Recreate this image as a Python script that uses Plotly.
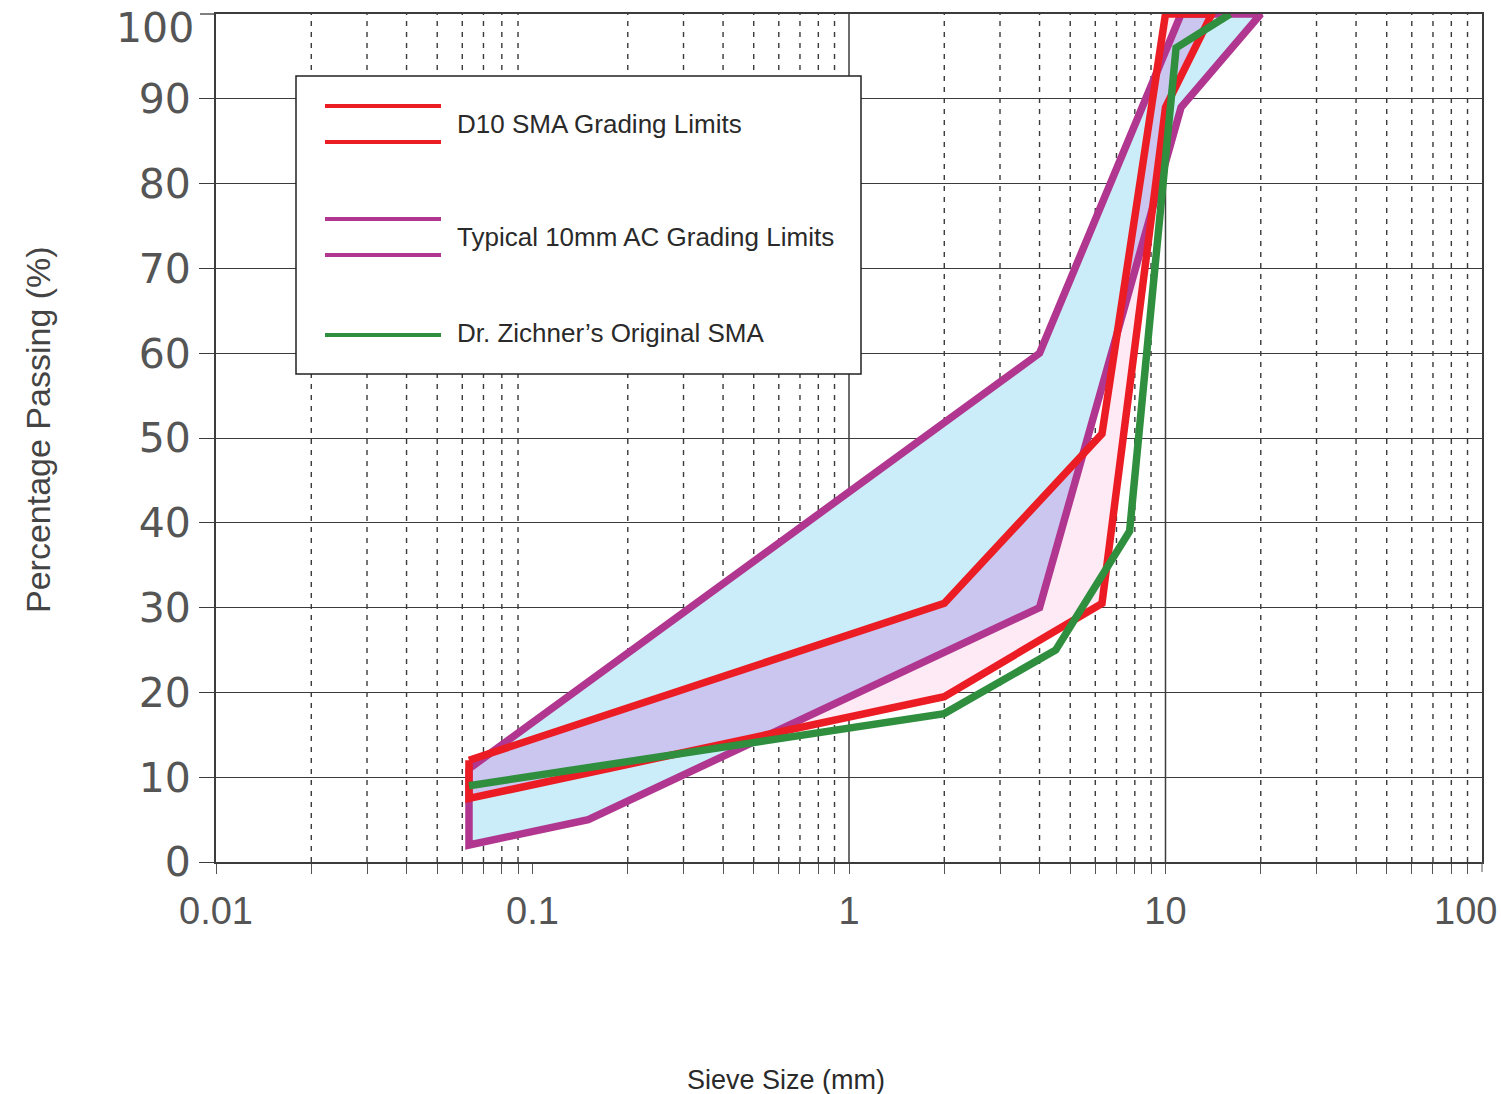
import numpy as np
import plotly.graph_objects as go

# ---------------- data ----------------
sma_upper_sieve = [0.063, 2, 6.3, 10]
sma_upper_pass = [12, 30.5, 50.5, 100]
sma_lower_sieve = [0.063, 2, 6.3, 10, 14]
sma_lower_pass = [7.5, 19.5, 30.5, 89, 100]

ac_upper_sieve = [0.063, 4, 11.2]
ac_upper_pass = [11, 60, 100]
ac_lower_sieve = [0.063, 0.15, 4, 11.2, 20]
ac_lower_pass = [2, 5, 30, 89, 100]

zichner_sieve = [0.063, 2, 4.5, 7.7, 10.8, 16]
zichner_pass = [9, 17.5, 25, 39, 96, 100]

y_ticks = [0, 10, 20, 30, 40, 50, 60, 70, 80, 90]
y_top_label = "100"
x_major = [0.01, 0.1, 1, 10]
x_major_labels = ["0.01", "0.1", "1", "10"]
x_right_label = "100"

legend_labels = ["D10 SMA Grading Limits", "Typical 10mm AC Grading Limits",
                 "Dr. Zichner\u2019s Original SMA"]

# ---------------- styling ----------------
RED = "#ec1c24"
PURPLE = "#b1368f"
GREEN = "#2f8f3f"
BLUE_FILL = "#cbedf9"
PINK_FILL = "#fdeaf4"
LAV_FILL = "#cbc6ef"
GRID = "#3c3c3c"
XFONT = dict(family="Liberation Sans", size=38, color="#555")
YFONT = dict(family="DejaVu Sans", size=41, color="#555")

W, H = 1501, 1094
L, R, T, B = 216, 1482, 14, 862


def px_x(p):
    return (p - L) / (R - L)


def px_y(p):
    return (B - p) / (B - T)


fig = go.Figure()

# ---------------- vertical grid ----------------
minor_vals = [d * k for d in [0.01, 0.1, 1, 10] for k in range(2, 10)]
gx, gy = [], []
for v in minor_vals:
    gx += [v, v, None]
    gy += [0, 100, None]
fig.add_trace(go.Scatter(x=gx, y=gy, mode="lines", hoverinfo="skip", showlegend=False,
                         line=dict(color="#3a3a3a", width=1.4, dash="5px,6px")))
sx, sy = [], []
for v in [1, 10]:
    sx += [v, v, None]
    sy += [0, 100, None]
fig.add_trace(go.Scatter(x=sx, y=sy, mode="lines", hoverinfo="skip", showlegend=False,
                         line=dict(color=GRID, width=1.5)))


# ---------------- envelopes ----------------
def envelope(ux, uy, lx, ly):
    return list(ux) + list(lx[::-1]) + [ux[0]], list(uy) + list(ly[::-1]) + [uy[0]]


ac_x, ac_y = envelope(ac_upper_sieve, ac_upper_pass, ac_lower_sieve, ac_lower_pass)
sma_x, sma_y = envelope(sma_upper_sieve, sma_upper_pass, sma_lower_sieve, sma_lower_pass)

fig.add_trace(go.Scatter(x=ac_x, y=ac_y, mode="lines", fill="toself", fillcolor=BLUE_FILL,
                         line=dict(width=0), hoverinfo="skip", showlegend=False))
fig.add_trace(go.Scatter(x=sma_x, y=sma_y, mode="lines", fill="toself", fillcolor=PINK_FILL,
                         line=dict(width=0), hoverinfo="skip", showlegend=False))

# overlap of the two envelopes (derived from the arrays above)
t = np.linspace(np.log10(0.063), np.log10(min(sma_lower_sieve[-1], ac_lower_sieve[-1])), 3000)


def f(xs, ys):
    return np.interp(t, np.log10(xs), ys)


up = np.minimum(f(sma_upper_sieve, sma_upper_pass), f(ac_upper_sieve, ac_upper_pass))
lo = np.maximum(f(sma_lower_sieve, sma_lower_pass), f(ac_lower_sieve, ac_lower_pass))
ok = up > lo
ox, oy = [], []
i = 0
n = len(t)
while i < n:
    if ok[i]:
        j = i
        while j < n and ok[j]:
            j += 1
        xs = list(10 ** t[i:j])
        ox += xs + xs[::-1] + [xs[0], None]
        oy += list(up[i:j]) + list(lo[i:j][::-1]) + [up[i], None]
        i = j
    else:
        i += 1
fig.add_trace(go.Scatter(x=ox, y=oy, mode="lines", fill="toself", fillcolor=LAV_FILL,
                         line=dict(width=0), hoverinfo="skip", showlegend=False))

# outlines
fig.add_trace(go.Scatter(x=ac_x, y=ac_y, mode="lines", name=legend_labels[1], showlegend=False,
                         line=dict(color=PURPLE, width=7.5)))
fig.add_trace(go.Scatter(x=sma_x, y=sma_y, mode="lines", name=legend_labels[0], showlegend=False,
                         line=dict(color=RED, width=7.5)))
fig.add_trace(go.Scatter(x=zichner_sieve, y=zichner_pass, mode="lines", name=legend_labels[2],
                         showlegend=False, line=dict(color=GREEN, width=7.5)))

# ---------------- manual legend ----------------
shapes = [dict(type="rect", xref="paper", yref="paper", layer="above",
               x0=px_x(296), x1=px_x(861), y0=px_y(374), y1=px_y(76),
               line=dict(color="#222", width=1.5), fillcolor="white")]
for yy, col in [(106, RED), (142, RED), (219, PURPLE), (255, PURPLE), (335, GREEN)]:
    shapes.append(dict(type="line", xref="paper", yref="paper", layer="above",
                       x0=px_x(325), x1=px_x(441), y0=px_y(yy), y1=px_y(yy),
                       line=dict(color=col, width=4)))
# tick marks for the edge ticks (100 on y, 100 on x)
shapes.append(dict(type="line", xref="paper", yref="paper", x0=px_x(200), x1=0, y0=1, y1=1,
                   line=dict(color=GRID, width=1.3)))
shapes.append(dict(type="line", xref="paper", yref="paper", x0=1, x1=1, y0=0, y1=px_y(872),
                   line=dict(color="#555", width=1)))

annotations = []
for yy, txt in zip([124, 237, 333], legend_labels):
    annotations.append(dict(text=txt, xref="paper", yref="paper", x=px_x(455), y=px_y(yy),
                            xanchor="left", yanchor="middle", showarrow=False,
                            font=dict(family="Liberation Sans", size=26, color="#2a2a2a")))

# edge tick labels (plotly hides labels that overflow the page)
annotations.append(dict(text=y_top_label, xref="paper", yref="paper", x=px_x(196), y=px_y(28),
                        xanchor="right", yanchor="middle", showarrow=False, font=YFONT))
annotations.append(dict(text=x_right_label, xref="paper", yref="paper", x=px_x(1499), y=px_y(911),
                        xanchor="right", yanchor="middle", showarrow=False, font=XFONT))

annotations.append(dict(text="Percentage Passing (%)", xref="paper", yref="paper",
                        x=px_x(38), y=px_y(430), textangle=-90, showarrow=False,
                        xanchor="center", yanchor="middle",
                        font=dict(family="Liberation Sans", size=34, color="#444")))
annotations.append(dict(text="Sieve Size (mm)", xref="paper", yref="paper",
                        x=px_x(786), y=px_y(1080), showarrow=False,
                        xanchor="center", yanchor="middle",
                        font=dict(family="Liberation Sans", size=27, color="#2a2a2a")))

x_tickvals = sorted(x_major + minor_vals)
x_ticktext = [x_major_labels[x_major.index(v)] if v in x_major else "" for v in x_tickvals]

fig.update_layout(
    width=W, height=H,
    margin=dict(l=L, r=W - R, t=T, b=H - B, pad=0, autoexpand=False),
    paper_bgcolor="white", plot_bgcolor="white",
    showlegend=False,
    shapes=shapes, annotations=annotations,
    xaxis=dict(type="log", range=[-2, 2], tickvals=x_tickvals, ticktext=x_ticktext,
               showgrid=False, zeroline=False, showline=True, linecolor=GRID, linewidth=2,
               mirror=True, ticks="outside", ticklen=10, tickcolor="#555", tickwidth=1,
               ticklabelstandoff=4, automargin=False, tickfont=XFONT),
    yaxis=dict(range=[0, 100], tickvals=y_ticks, showgrid=True, gridcolor=GRID, gridwidth=1.3,
               zeroline=False, showline=True, linecolor=GRID, linewidth=2, mirror=True,
               ticks="outside", ticklen=15, tickcolor=GRID, tickwidth=1.3,
               automargin=False, tickfont=YFONT),
)

fig.write_html("out.html")
